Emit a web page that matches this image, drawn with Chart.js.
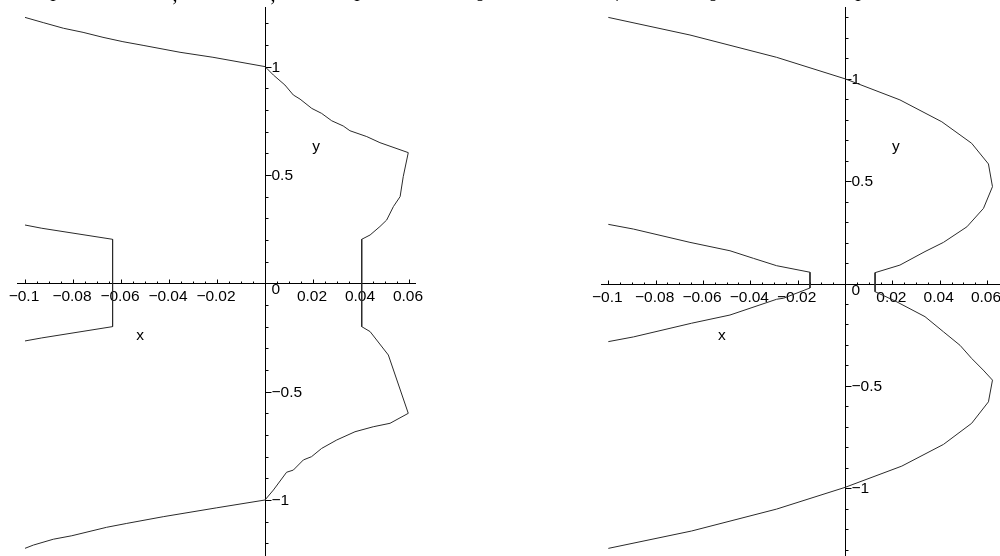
<!DOCTYPE html>
<html>
<head>
<meta charset="utf-8">
<script src="https://cdn.jsdelivr.net/npm/chart.js@4.4.1/dist/chart.umd.min.js"></script>
<style>
  html, body { margin: 0; padding: 0; background: #fff; }
  body { width: 1000px; height: 556px; position: relative; overflow: hidden; }
  .panel { position: absolute; top: 0; width: 500px; height: 556px; }
</style>
</head>
<body>
<div class="panel" style="left:0"><canvas id="leftPlot" width="500" height="556"></canvas></div>
<div class="panel" style="left:500px"><canvas id="rightPlot" width="500" height="556"></canvas></div>
<script>
// ---- left plot curves ----
// main curve: upper arm, bulge on the right, lower arm
const leftMainX = [-0.1, -0.0924, -0.084, -0.0758, -0.0675, -0.0592, -0.0508, -0.0354, -0.0217, 0,
  0.0035, 0.0083, 0.0118, 0.0146, 0.0195, 0.0236, 0.0278, 0.0326, 0.0354, 0.0424, 0.0479, 0.0597,
  0.0576, 0.0563, 0.0535, 0.0507, 0.0479, 0.0438, 0.0403, 0.0403,
  0.0438, 0.0514, 0.0597, 0.0521, 0.0451, 0.0375, 0.0299, 0.0236, 0.0194, 0.0160, 0.0118, 0.0090, 0.0035, 0,
  -0.0201, -0.0424, -0.0576, -0.066, -0.0805, -0.0882, -0.0965, -0.1];
const leftMainY = [1.227, 1.203, 1.177, 1.158, 1.135, 1.115, 1.098, 1.066, 1.043, 1.0,
  0.961, 0.915, 0.869, 0.850, 0.807, 0.784, 0.750, 0.726, 0.704, 0.677, 0.649, 0.603,
  0.492, 0.400, 0.354, 0.292, 0.262, 0.223, 0.203, -0.200,
  -0.223, -0.331, -0.600, -0.646, -0.662, -0.685, -0.723, -0.762, -0.800, -0.815, -0.862, -0.872, -0.954, -1.0,
  -1.036, -1.077, -1.108, -1.126, -1.165, -1.181, -1.208, -1.223];
// bracket on the left
const leftBracketX = [-0.1, -0.093, -0.0635, -0.0635, -0.093, -0.1];
const leftBracketY = [0.269, 0.254, 0.203, -0.200, -0.252, -0.266];

// ---- right plot curves ----
const rightMainX = [-0.1, -0.0655, -0.0289, 0, 0.0232, 0.0409, 0.0535, 0.0606, 0.0623, 0.0585, 0.0515,
  0.0416, 0.0338, 0.0232, 0.0127, 0.0127,
  0.0211, 0.0338, 0.0416, 0.0486, 0.0535, 0.0584, 0.0623, 0.0606, 0.0535, 0.0416, 0.0240, 0,
  -0.0289, -0.0648, -0.1];
const rightMainY = [1.300, 1.214, 1.105, 1.0, 0.897, 0.790, 0.685, 0.584, 0.473, 0.367, 0.277,
  0.201, 0.156, 0.090, 0.053, -0.040,
  -0.085, -0.162, -0.236, -0.302, -0.366, -0.423, -0.472, -0.578, -0.683, -0.786, -0.892, -0.996,
  -1.102, -1.209, -1.294];
const rightInnerX = [-0.1, -0.0894, -0.0655, -0.0486, -0.0387, -0.0289, -0.0148, -0.0148,
  -0.026, -0.0289, -0.0486, -0.0648, -0.0894, -0.1];
const rightInnerY = [0.289, 0.266, 0.201, 0.160, 0.123, 0.087, 0.055, -0.022,
  -0.072, -0.077, -0.154, -0.194, -0.261, -0.284];

// ---- axes ----
const xTickValues = [-0.1, -0.08, -0.06, -0.04, -0.02, 0.02, 0.04, 0.06];
const xTickLabels = ['−0.1', '−0.08', '−0.06', '−0.04', '−0.02', '0.02', '0.04', '0.06'];
const yTickValues = [1, 0.5, -0.5, -1];
const yTickLabels = ['1', '0.5', '−0.5', '−1'];

// clipped line of document text above the plots
const topTextLeft = [['l', 53], [',', 175], [',', 273], ['l', 357], ['o', 480]];
const topTextRight = [['v', 117], ['o', 213], ['l', 358]];

function toPoints(xs, ys) {
  return xs.map((v, i) => ({ x: v, y: ys[i] }));
}

function range(from, to, step) {
  const out = [];
  const n = Math.round((to - from) / step);
  for (let i = 0; i <= n; i++) out.push(+(from + i * step).toFixed(4));
  return out;
}

const mapleAxes = {
  id: 'mapleAxes',
  beforeDatasetsDraw(chart, args, opts) {
    const { ctx, chartArea: a, scales: { x, y } } = chart;
    const x0 = Math.round(x.getPixelForValue(0)) + 0.5;
    const y0 = Math.round(y.getPixelForValue(0)) + 0.5;
    ctx.save();
    ctx.strokeStyle = '#000';
    ctx.lineWidth = 1;
    ctx.beginPath();
    ctx.moveTo(a.left, y0); ctx.lineTo(a.right, y0);
    ctx.moveTo(x0, a.top); ctx.lineTo(x0, a.bottom + 5);
    // x ticks, pointing up
    opts.xMinor.forEach(v => {
      const px = Math.round(x.getPixelForValue(v)) + 0.5;
      const len = xTickValues.includes(v) ? 4 : 2;
      ctx.moveTo(px, y0); ctx.lineTo(px, y0 - len);
    });
    // y ticks, pointing right
    opts.yMinor.forEach(v => {
      const py = Math.round(y.getPixelForValue(v)) + 0.5;
      const len = yTickValues.includes(v) ? 6 : 3;
      ctx.moveTo(x0, py); ctx.lineTo(x0 + len, py);
    });
    ctx.stroke();

    ctx.fillStyle = '#000';
    ctx.font = '15.5px "Liberation Sans", Arial, sans-serif';
    ctx.textBaseline = 'middle';
    ctx.textAlign = 'center';
    xTickValues.forEach((v, i) => {
      ctx.fillText(xTickLabels[i], x.getPixelForValue(v) - 1, y0 + 13);
    });
    ctx.textAlign = 'left';
    yTickValues.forEach((v, i) => {
      ctx.fillText(yTickLabels[i], x0 + 6, y.getPixelForValue(v) + 1);
    });
    ctx.fillText('0', x0 + 6, y0 + 6.5);
    // axis names
    ctx.textAlign = 'center';
    ctx.fillText('x', x.getPixelForValue(opts.xName[0]), y.getPixelForValue(opts.xName[1]));
    ctx.fillText('y', x.getPixelForValue(opts.yName[0]), y.getPixelForValue(opts.yName[1]));

    ctx.font = '20px "Liberation Serif", "DejaVu Serif", serif';
    ctx.textBaseline = 'alphabetic';
    opts.topText.forEach(([ch, px]) => ctx.fillText(ch, px, 1));
    ctx.restore();
  }
};

function makePlot(id, curves, cfg) {
  const ctx = document.getElementById(id).getContext('2d');
  new Chart(ctx, {
    type: 'scatter',
    data: {
      datasets: curves.map(pts => ({
        data: pts,
        showLine: true,
        pointRadius: 0,
        borderColor: '#2a2a2a',
        borderWidth: 1,
        tension: 0
      }))
    },
    options: {
      responsive: false,
      animation: false,
      events: [],
      layout: { padding: cfg.padding },
      plugins: {
        legend: { display: false },
        tooltip: { enabled: false },
        mapleAxes: {
          xMinor: range(-0.1, 0.06, 0.005),
          yMinor: cfg.yMinor,
          xName: cfg.xName,
          yName: cfg.yName,
          topText: cfg.topText
        }
      },
      scales: {
        x: { type: 'linear', min: cfg.xMin, max: cfg.xMax, display: false },
        y: { type: 'linear', min: cfg.yMin, max: cfg.yMax, display: false }
      }
    },
    plugins: [mapleAxes]
  });
}

makePlot('leftPlot',
  [toPoints(leftMainX, leftMainY), toPoints(leftBracketX, leftBracketY)],
  {
    padding: { left: 17, top: 7, right: 84, bottom: 0 },
    xMin: -0.10333, xMax: 0.06292, yMin: -1.2584, yMax: 1.2750,
    yMinor: range(-1.2, 1.2, 0.1),
    xName: [-0.052, -0.243], yName: [0.0213, 0.629],
    topText: topTextLeft
  });

makePlot('rightPlot',
  [toPoints(rightMainX, rightMainY), toPoints(rightInnerX, rightInnerY)],
  {
    padding: { left: 101, top: 7, right: 0, bottom: 0 },
    xMin: -0.10309, xMax: 0.06548, yMin: -1.3312, yMax: 1.3508,
    yMinor: range(-1.3, 1.3, 0.1),
    xName: [-0.052, -0.256], yName: [0.0215, 0.667],
    topText: topTextRight
  });
</script>
</body>
</html>
